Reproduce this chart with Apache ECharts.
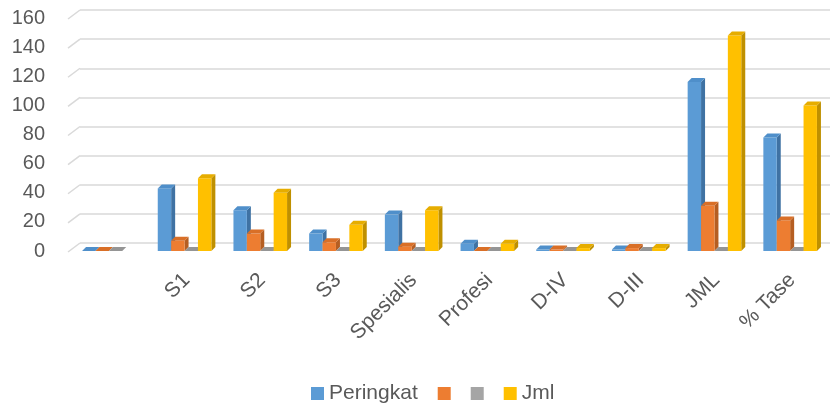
<!DOCTYPE html>
<html>
<head>
<meta charset="utf-8">
<script src="https://cdn.jsdelivr.net/npm/echarts@6/dist/echarts.min.js"></script>
<style>html,body{margin:0;padding:0;background:#fff}#c{width:830px;height:406px}</style>
</head>
<body>
<div id="c"></div>
<script>
const categories = ['', 'S1', 'S2', 'S3', 'Spesialis', 'Profesi', 'D-IV', 'D-III', 'JML', '% Tase'];
const peringkat = [0, 43, 28, 12, 25, 5, 1, 1, 116, 78];
const seriesB = [0, 7, 12, 6, 3, 0, 1, 2, 31, 21];
const seriesC = [0, 0, 0, 0, 0, 0, 0, 0, 0, 0];
const jml = [null, 50, 40, 18, 28, 5, 2, 2, 148, 100];
const yTicks = [0, 20, 40, 60, 80, 100, 120, 140, 160];

const seriesNames = ['Peringkat', ' ', '  ', 'Jml'];
const seriesValues = [peringkat, seriesB, seriesC, jml];
const front = ['#5b9bd5', '#ed7d31', '#a5a5a5', '#ffc000'];
const side = ['#3f72a3', '#b55e22', '#7a7a7a', '#bf9000'];
const top_ = ['#4f8fca', '#d96f27', '#959595', '#e6ad00'];
const FONT = 'Liberation Sans';
const DX = 4, DY = 4;

function barRenderer(s) {
  return function (params, api) {
    const c = api.value(0), v = api.value(1);
    if (v === null || isNaN(v)) return null;
    const cw = api.size([1, 0])[0];
    const pitch = cw * 0.177;
    const center = api.coord([c, 0])[0];
    const x = center - 2 * pitch - DX / 2 + s * pitch;
    const yBase = api.coord([c, 0])[1];
    const yTop = api.coord([c, v])[1];
    const w = pitch;
    return {
      type: 'group',
      children: [
        { type: 'polygon', shape: { points: [[x + w, yTop], [x + w + DX, yTop - DY], [x + w + DX, yBase - DY], [x + w, yBase]] }, style: { fill: side[s] } },
        { type: 'rect', shape: { x: x, y: yTop, width: w, height: yBase - yTop }, style: { fill: front[s] } },
        { type: 'polygon', shape: { points: [[x, yTop], [x + w, yTop], [x + w + DX, yTop - DY], [x + DX, yTop - DY]] }, style: { fill: top_[s] } }
      ]
    };
  };
}

const chart = echarts.init(document.getElementById('c'), null, { renderer: 'canvas' });
const series = seriesNames.map((name, s) => ({
  name: name,
  type: 'custom',
  xAxisIndex: 0,
  yAxisIndex: 0,
  itemStyle: { color: front[s] },
  encode: { x: 0, y: 1 },
  clip: false,
  z: 5,
  renderItem: barRenderer(s),
  data: categories.map((c, i) => [i, seriesValues[s][i]])
}));
series.push({
  name: 'walltick',
  type: 'custom',
  xAxisIndex: 1,
  yAxisIndex: 1,
  silent: true,
  z: 1,
  renderItem: function (params, api) {
    const y = api.coord([0, api.value(1)])[1];
    const x0 = params.coordSys.x;
    return { type: 'line', shape: { x1: x0 - 12, y1: y + 9, x2: x0, y2: y }, style: { stroke: '#d9d9d9', lineWidth: 1.5 } };
  },
  data: yTicks.map(t => [0, t])
});

chart.setOption({
  animation: false,
  textStyle: { fontFamily: FONT },
  grid: [
    { left: 73, right: 0, top: 18, bottom: 155 },
    { left: 80, right: 0, top: 10, bottom: 163 }
  ],
  legend: {
    data: seriesNames,
    top: 383,
    left: 311,
    padding: 0,
    icon: 'rect',
    itemWidth: 13,
    itemHeight: 13,
    itemGap: 20,
    formatter: n => n.trim(),
    textStyle: { fontSize: 21, color: '#595959', fontFamily: FONT }
  },
  xAxis: [
    {
      type: 'category', gridIndex: 0, data: categories,
      axisLine: { show: false }, axisTick: { show: false }, splitLine: { show: false },
      axisLabel: { rotate: 45, interval: 0, margin: 26, fontSize: 21, color: '#595959', fontFamily: FONT }
    },
    { type: 'category', gridIndex: 1, data: categories, show: false }
  ],
  yAxis: [
    {
      type: 'value', gridIndex: 0, min: 0, max: 160, interval: 20,
      axisLine: { show: false }, axisTick: { show: false }, splitLine: { show: false },
      axisLabel: { margin: 28, fontSize: 20, color: '#595959', fontFamily: FONT }
    },
    {
      type: 'value', gridIndex: 1, min: 0, max: 160, interval: 20,
      axisLine: { show: false }, axisTick: { show: false }, axisLabel: { show: false },
      splitLine: { show: true, lineStyle: { color: '#d9d9d9', width: 1.5 } }
    }
  ],
  series: series
});
</script>
</body>
</html>
